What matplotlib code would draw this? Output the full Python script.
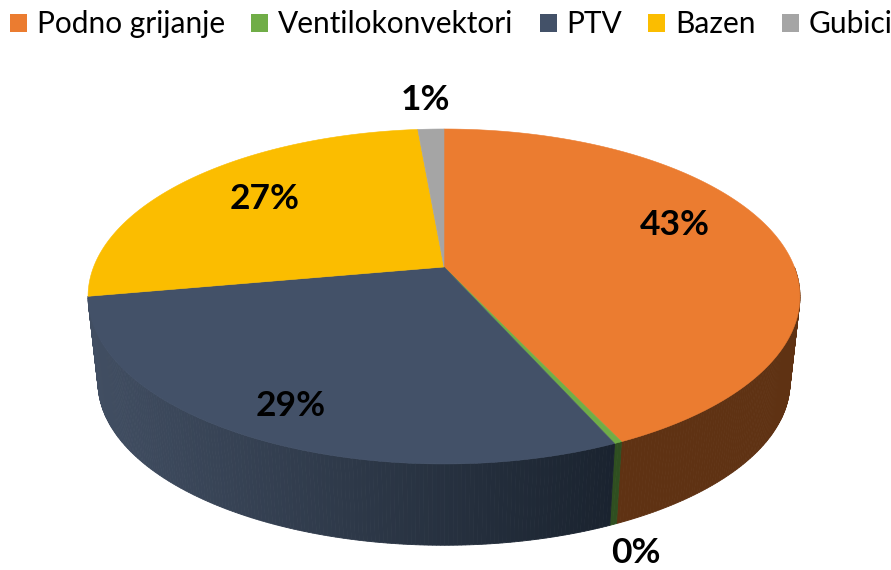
import matplotlib
matplotlib.use("Agg")
import matplotlib.pyplot as plt
from matplotlib.patches import Patch
import numpy as np

labels = ["Podno grijanje", "Ventilokonvektori", "PTV", "Bazen", "Gubici"]
values = [43.0, 0.3, 28.9, 26.4, 1.4]
pct_labels = ["43%", "0%", "29%", "27%", "1%"]
top_colors = ["#EB7C30", "#70AD47", "#435168", "#FBBD00", "#A5A5A5"]
side_left = ["#5F3213", "#2F4F20", "#414E62"]
side_right = ["#5F3213", "#2F4F20", "#1A232F"]
label_pos = [(675, 225), (636, 553), (291, 406), (265, 199), (425, 100)]


def top_edge(theta):
    # perspective view of the pie's top circle, angle clockwise from 12 o'clock
    X = np.sin(theta)
    Y = np.cos(theta)
    w = 1 + 0.176 * Y
    return 444 + 350.4 * X / w, 267 - 162.3 * Y / w


def bottom_edge(theta):
    x, y = top_edge(theta)
    return 444 + 0.972 * (x - 444), 382 + 0.972 * (y - 296)


plt.rcParams["font.family"] = ["Lato", "DejaVu Sans"]
fig = plt.figure(figsize=(8.91, 5.7), dpi=100)
ax = fig.add_axes([0, 0, 1, 1])
ax.set_xlim(0, 891)
ax.set_ylim(570, 0)
ax.axis("off")

ends = np.cumsum(values) / np.sum(values) * 2 * np.pi
starts = np.concatenate([[0], ends[:-1]])

# side wall, only the first three slices show it
for i in range(len(side_left)):
    a0 = max(starts[i], np.pi / 2)
    a1 = ends[i]
    n = int((a1 - a0) * 100) + 2
    t = np.linspace(a0, a1, n)
    c0 = np.array(matplotlib.colors.to_rgb(side_left[i]))
    c1 = np.array(matplotlib.colors.to_rgb(side_right[i]))
    for j in range(n - 1):
        tx, ty = top_edge(t[j:j + 2])
        bx, by = bottom_edge(t[j:j + 2])
        # PTV side gets darker towards the right
        f = np.clip((tx.mean() - 90) / (615 - 90), 0, 1)
        col = c0 + (c1 - c0) * f
        ax.fill(np.r_[tx, bx[::-1]], np.r_[ty, by[::-1]], color=col, lw=0.6, zorder=2)

# top face
for i in range(len(values)):
    t = np.linspace(starts[i], ends[i], 200)
    x, y = top_edge(t)
    ax.fill(np.r_[444, x], np.r_[267, y], color=top_colors[i], lw=0.4, zorder=3)

for i in range(len(values)):
    ax.text(label_pos[i][0], label_pos[i][1], pct_labels[i], fontsize=25.5, fontweight="bold",
            ha="center", va="center", color="black", zorder=4)

handles = [Patch(facecolor=c, edgecolor="none") for c in top_colors]
ax.legend(handles, labels, loc="upper left", bbox_to_anchor=(0.0, 1.0), ncol=5, frameon=False,
          fontsize=21.5, handlelength=0.57, handleheight=0.57, handletextpad=0.33,
          columnspacing=0.87, borderpad=0.3, borderaxespad=0.05)

plt.savefig("out.png", dpi=100)
